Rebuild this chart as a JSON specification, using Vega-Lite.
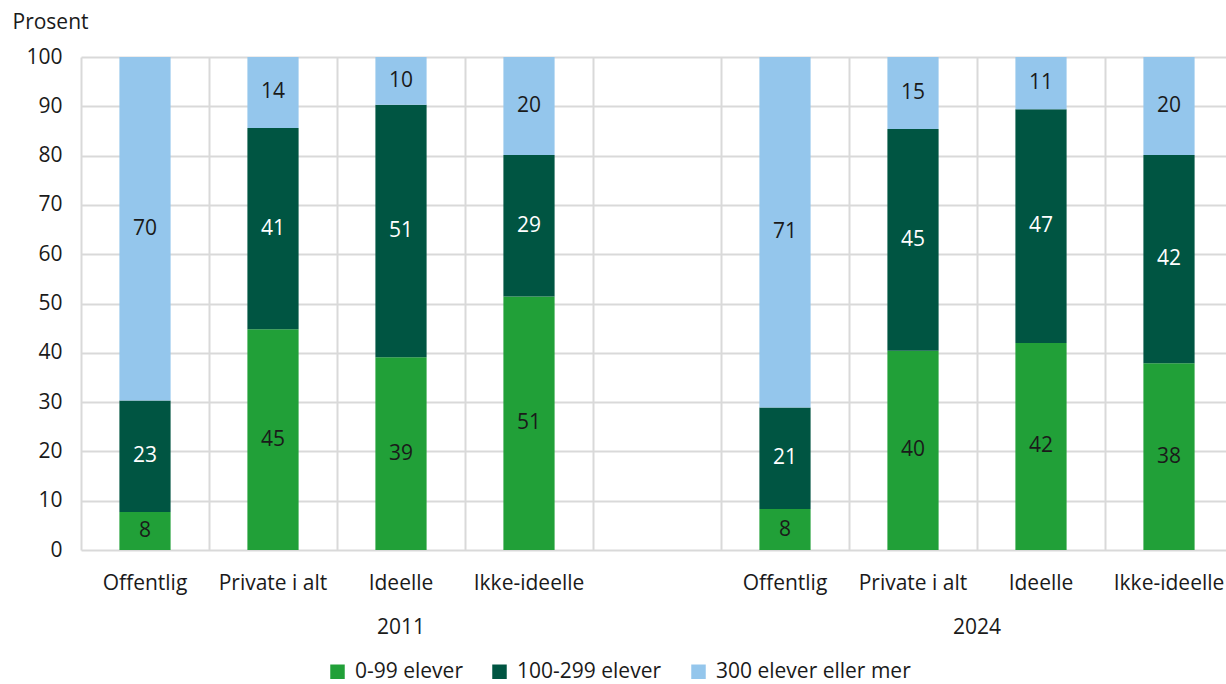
{
  "$schema": "https://vega.github.io/schema/vega-lite/v6.json",
  "autosize": "none",
  "width": 1152,
  "height": 493,
  "padding": {"left": 81, "top": 57, "right": -7, "bottom": 134},
  "background": "white",
  "config": {
    "font": "Open Sans",
    "view": {"stroke": null},
    "axis": {"labelFont": "Open Sans", "labelFontSize": 21, "labelColor": "#1a1a1a", "titleFont": "Open Sans"},
    "axisY": {"values": [0,10,20,30,40,50,60,70,80,90,100], "labelOverlap": false},
    "legend": {"labelFont": "Open Sans"}
  },
  "datasets": {
    "bars": [
      {"slot": "2011|Offentlig", "group": "0-99 elever", "order": 1, "value": 7.7},
      {"slot": "2011|Offentlig", "group": "100-299 elever", "order": 2, "value": 22.6},
      {"slot": "2011|Offentlig", "group": "300 elever eller mer", "order": 3, "value": 69.7},
      {"slot": "2011|Private i alt", "group": "0-99 elever", "order": 1, "value": 44.8},
      {"slot": "2011|Private i alt", "group": "100-299 elever", "order": 2, "value": 40.8},
      {"slot": "2011|Private i alt", "group": "300 elever eller mer", "order": 3, "value": 14.4},
      {"slot": "2011|Ideelle", "group": "0-99 elever", "order": 1, "value": 39.1},
      {"slot": "2011|Ideelle", "group": "100-299 elever", "order": 2, "value": 51.2},
      {"slot": "2011|Ideelle", "group": "300 elever eller mer", "order": 3, "value": 9.7},
      {"slot": "2011|Ikke-ideelle", "group": "0-99 elever", "order": 1, "value": 51.4},
      {"slot": "2011|Ikke-ideelle", "group": "100-299 elever", "order": 2, "value": 28.7},
      {"slot": "2011|Ikke-ideelle", "group": "300 elever eller mer", "order": 3, "value": 19.9},
      {"slot": "2024|Offentlig", "group": "0-99 elever", "order": 1, "value": 8.3},
      {"slot": "2024|Offentlig", "group": "100-299 elever", "order": 2, "value": 20.6},
      {"slot": "2024|Offentlig", "group": "300 elever eller mer", "order": 3, "value": 71.1},
      {"slot": "2024|Private i alt", "group": "0-99 elever", "order": 1, "value": 40.4},
      {"slot": "2024|Private i alt", "group": "100-299 elever", "order": 2, "value": 45.0},
      {"slot": "2024|Private i alt", "group": "300 elever eller mer", "order": 3, "value": 14.6},
      {"slot": "2024|Ideelle", "group": "0-99 elever", "order": 1, "value": 42.0},
      {"slot": "2024|Ideelle", "group": "100-299 elever", "order": 2, "value": 47.4},
      {"slot": "2024|Ideelle", "group": "300 elever eller mer", "order": 3, "value": 10.6},
      {"slot": "2024|Ikke-ideelle", "group": "0-99 elever", "order": 1, "value": 37.9},
      {"slot": "2024|Ikke-ideelle", "group": "100-299 elever", "order": 2, "value": 42.2},
      {"slot": "2024|Ikke-ideelle", "group": "300 elever eller mer", "order": 3, "value": 19.9}
    ],
    "years": [
      {"year": "2011", "pos": 2.5, "level": -15.8},
      {"year": "2024", "pos": 7.0, "level": -15.8}
    ]
  },
  "layer": [
    {
      "data": {"name": "bars"},
      "layer": [
        {
          "mark": {"type": "bar", "width": {"band": 0.4}},
          "encoding": {
            "x": {
              "field": "slot", "type": "nominal",
              "scale": {"domain": ["2011|Offentlig", "2011|Private i alt", "2011|Ideelle", "2011|Ikke-ideelle", "gap", "2024|Offentlig", "2024|Private i alt", "2024|Ideelle", "2024|Ikke-ideelle"], "paddingInner": 0, "paddingOuter": 0},
              "axis": {"title": null, "labelAngle": 0, "ticks": false, "domain": false, "grid": true, "bandPosition": 0, "gridColor": "#d9d9d9", "gridWidth": 2, "labelPadding": 22, "labelExpr": "datum.value == 'gap' ? '' : split(datum.value, '|')[1]"}
            },
            "y": {
              "field": "value", "type": "quantitative", "stack": "zero",
              "scale": {"domain": [0, 100], "nice": false},
              "axis": {"title": "Prosent", "titleAngle": 0, "titleAlign": "left", "titleBaseline": "alphabetic", "titleX": -69, "titleY": -29, "titleFontSize": 21, "titleFontWeight": "normal", "titleColor": "#1a1a1a", "values": [0,10,20,30,40,50,60,70,80,90,100], "ticks": false, "domain": false, "gridColor": "#d9d9d9", "gridWidth": 2, "labelPadding": 19}
            },
            "color": {
              "field": "group", "type": "nominal",
              "scale": {"domain": ["0-99 elever", "100-299 elever", "300 elever eller mer"], "range": ["#21a038", "#005542", "#94c6ec"]},
              "legend": {"title": null, "orient": "none", "legendX": 246, "legendY": 604, "direction": "horizontal", "symbolType": "square", "symbolSize": 210, "symbolStrokeWidth": 0, "labelFontSize": 21, "labelColor": "#1a1a1a", "labelLimit": 400, "columnPadding": 26, "labelOffset": 7}
            },
            "order": {"field": "order"}
          }
        },
        {
          "mark": {"type": "text", "fontSize": 21, "baseline": "middle", "align": "center"},
          "encoding": {
            "x": {"field": "slot", "type": "nominal"},
            "y": {"field": "value", "type": "quantitative", "stack": "zero", "bandPosition": 0.5},
            "detail": {"field": "group"},
            "order": {"field": "order"},
            "text": {"field": "value", "type": "quantitative", "format": ".0f"},
            "color": {"condition": {"test": "datum.group == '100-299 elever'", "value": "white"}, "value": "#1a1a1a"}
          }
        }
      ]
    },
    {
      "data": {"name": "years"},
      "mark": {"type": "text", "fontSize": 21, "color": "#1a1a1a", "baseline": "middle", "align": "center"},
      "encoding": {
        "x": {"field": "pos", "type": "quantitative", "scale": {"domain": [0, 9], "nice": false, "zero": false}, "axis": null},
        "y": {"field": "level", "type": "quantitative"},
        "text": {"field": "year"}
      }
    }
  ],
  "resolve": {"scale": {"x": "independent", "color": "independent"}}
}
